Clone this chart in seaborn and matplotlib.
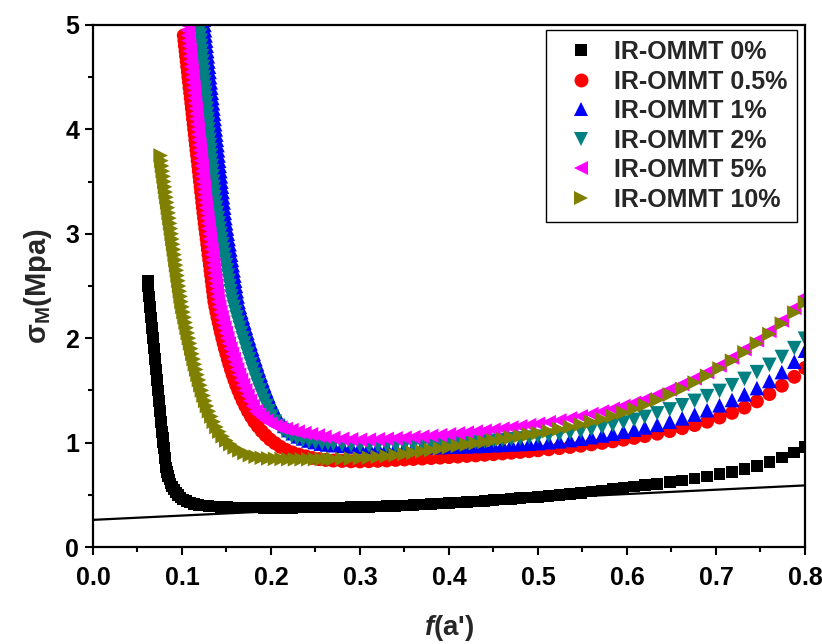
import matplotlib
matplotlib.use("Agg")
import matplotlib.pyplot as plt
from matplotlib.ticker import MultipleLocator
from matplotlib.lines import Line2D
import pandas as pd
import seaborn as sns

# ---------------------------------------------------------------- data
SAMPLES = ["IR-OMMT 0%", "IR-OMMT 0.5%", "IR-OMMT 1%",
           "IR-OMMT 2%", "IR-OMMT 5%", "IR-OMMT 10%"]
COLORS = ["#000000", "#ff0000", "#0000ff", "#008080", "#ff00ff", "#808000"]
MARKERS = ["s", "o", "^", "v", "<", ">"]
SIZES = [70, 100, 110, 110, 110, 110]

X_TICKS = [0.0, 0.1, 0.2, 0.3, 0.4, 0.5, 0.6, 0.7, 0.8]
Y_TICKS = [0, 1, 2, 3, 4, 5]

# straight reference line
LINE_F = [0.0, 0.8]
LINE_S = [0.26, 0.59]

# stress levels of the steep (low f) branch
S_GRID = [5.10, 5.05, 5.00, 4.95, 4.90, 4.85, 4.80, 4.75, 4.70, 4.65, 4.60, 4.55,
          4.50, 4.45, 4.40, 4.35, 4.30, 4.25, 4.20, 4.15, 4.10, 4.05, 4.00, 3.95,
          3.90, 3.85, 3.80, 3.75, 3.70, 3.65, 3.60, 3.55, 3.50, 3.45, 3.40, 3.35,
          3.30, 3.25, 3.20, 3.15, 3.10, 3.05, 3.00, 2.95, 2.90, 2.85, 2.80, 2.75,
          2.70, 2.65, 2.60, 2.55, 2.50, 2.45, 2.40, 2.35, 2.30, 2.25, 2.20, 2.15,
          2.10, 2.05, 2.00, 1.95, 1.90, 1.85, 1.80, 1.75, 1.70, 1.65, 1.60, 1.55,
          1.50, 1.45, 1.40, 1.35, 1.30, 1.25, 1.20, 1.15, 1.10, 1.05, 1.00, 0.95,
          0.90, 0.85, 0.80]

# f values of the slowly rising branch (shared by all samples)
F_TAIL = [0.27, 0.28, 0.29, 0.30, 0.31, 0.32, 0.33, 0.34, 0.35, 0.36, 0.37, 0.38,
          0.39, 0.40, 0.41, 0.42, 0.43, 0.44, 0.45, 0.46, 0.47, 0.48, 0.49, 0.50,
          0.512, 0.524, 0.536, 0.548, 0.560, 0.572, 0.584, 0.596, 0.608, 0.620,
          0.634, 0.648, 0.662, 0.676, 0.690, 0.704, 0.718, 0.732, 0.746, 0.760,
          0.774, 0.788, 0.800]

# ---- IR-OMMT 0%
S0_TOP = 2.55
F0_STEEP = [0.0615, 0.0620, 0.0626, 0.0631, 0.0637, 0.0642, 0.0648, 0.0653, 0.0659,
            0.0664, 0.0670, 0.0675, 0.0681, 0.0686, 0.0692, 0.0697, 0.0703, 0.0708,
            0.0714, 0.0719, 0.0725, 0.0730, 0.0736, 0.0741, 0.0747, 0.0753, 0.0759,
            0.0765, 0.0771, 0.0778, 0.0784, 0.0790, 0.0796, 0.0802, 0.0809, 0.0816]
F0_BEND = [0.0824, 0.0834, 0.0845, 0.0858, 0.0873, 0.0890, 0.0910, 0.0932, 0.0957,
           0.0985, 0.1015, 0.1050, 0.1090, 0.1135, 0.1185, 0.1240, 0.1300, 0.1365,
           0.1435, 0.1505, 0.1575, 0.1645, 0.1715, 0.1785, 0.1855, 0.1925, 0.2000,
           0.2080, 0.2160, 0.2240, 0.2320, 0.2400, 0.2480, 0.2560, 0.2640]
S0_BEND = [0.76, 0.72, 0.68, 0.645, 0.61, 0.58, 0.55, 0.522, 0.497, 0.475, 0.456,
           0.44, 0.425, 0.413, 0.403, 0.396, 0.391, 0.387, 0.384, 0.382, 0.380,
           0.379, 0.378, 0.377, 0.377, 0.376, 0.376, 0.376, 0.376, 0.376, 0.377,
           0.377, 0.378, 0.378, 0.378]
S0_TAIL = [0.379, 0.380, 0.382, 0.384, 0.386, 0.389, 0.392, 0.395, 0.398, 0.402,
           0.406, 0.410, 0.415, 0.420, 0.425, 0.430, 0.436, 0.442, 0.448, 0.454,
           0.460, 0.467, 0.474, 0.480, 0.489, 0.498, 0.508, 0.518, 0.530, 0.542,
           0.555, 0.568, 0.580, 0.592, 0.606, 0.620, 0.636, 0.655, 0.675, 0.697,
           0.720, 0.746, 0.778, 0.815, 0.858, 0.905, 0.955]

# ---- IR-OMMT 0.5%
S05_TOP = 4.90
F05_STEEP = [0.1020, 0.1027, 0.1033, 0.1040, 0.1046, 0.1053, 0.1059, 0.1066, 0.1072,
             0.1079, 0.1085, 0.1092, 0.1098, 0.1105, 0.1111, 0.1118, 0.1124, 0.1131,
             0.1137, 0.1144, 0.1150, 0.1157, 0.1163, 0.1170, 0.1176, 0.1183, 0.1189,
             0.1196, 0.1202, 0.1209, 0.1215, 0.1222, 0.1228, 0.1235, 0.1241, 0.1248,
             0.1255, 0.1262, 0.1270, 0.1277, 0.1284, 0.1291, 0.1298, 0.1306, 0.1313,
             0.1320, 0.1327, 0.1334, 0.1342, 0.1349, 0.1356, 0.1364, 0.1375, 0.1387,
             0.1399, 0.1412, 0.1425, 0.1439, 0.1453, 0.1468, 0.1483, 0.1499, 0.1515,
             0.1532, 0.1550, 0.1569, 0.1589, 0.1610, 0.1633, 0.1657, 0.1683, 0.1711,
             0.1741]
F05_BEND = [0.1775, 0.1812, 0.1852, 0.1895, 0.1940, 0.1990, 0.2045, 0.2105, 0.2170,
            0.2240, 0.2315, 0.2390, 0.2465, 0.2540, 0.2615]
S05_BEND = [1.25, 1.20, 1.155, 1.11, 1.07, 1.03, 0.995, 0.96, 0.93, 0.905, 0.885,
            0.868, 0.853, 0.842, 0.834]
S05_TAIL = [0.828, 0.824, 0.821, 0.820, 0.822, 0.825, 0.829, 0.834, 0.838, 0.843,
            0.847, 0.852, 0.856, 0.861, 0.866, 0.872, 0.877, 0.883, 0.889, 0.896,
            0.903, 0.910, 0.918, 0.926, 0.936, 0.947, 0.958, 0.970, 0.983, 0.997,
            1.012, 1.028, 1.045, 1.062, 1.085, 1.110, 1.138, 1.168, 1.200, 1.240,
            1.285, 1.335, 1.395, 1.465, 1.545, 1.630, 1.715]

# ---- IR-OMMT 1%
S1_TOP = 5.10
F1_STEEP = [0.1240, 0.1246, 0.1253, 0.1259, 0.1265, 0.1272, 0.1278, 0.1284, 0.1291,
            0.1297, 0.1304, 0.1310, 0.1316, 0.1323, 0.1329, 0.1335, 0.1342, 0.1348,
            0.1354, 0.1361, 0.1367, 0.1373, 0.1380, 0.1386, 0.1392, 0.1399, 0.1405,
            0.1411, 0.1418, 0.1424, 0.1431, 0.1437, 0.1443, 0.1450, 0.1456, 0.1462,
            0.1469, 0.1475, 0.1481, 0.1488, 0.1497, 0.1506, 0.1515, 0.1524, 0.1534,
            0.1543, 0.1552, 0.1561, 0.1570, 0.1580, 0.1589, 0.1598, 0.1607, 0.1616,
            0.1626, 0.1635, 0.1651, 0.1667, 0.1684, 0.1701, 0.1718, 0.1735, 0.1752,
            0.1770, 0.1788, 0.1806, 0.1825, 0.1844, 0.1863, 0.1883, 0.1903, 0.1924,
            0.1946, 0.1969, 0.1993, 0.2018, 0.2045]
F1_BEND = [0.2075, 0.2110, 0.2150, 0.2195, 0.2245, 0.2300, 0.2360, 0.2420, 0.2490,
           0.2560, 0.2630]
S1_BEND = [1.25, 1.20, 1.16, 1.12, 1.09, 1.06, 1.04, 1.02, 1.005, 0.99, 0.982]
S1_TAIL = [0.975, 0.968, 0.962, 0.958, 0.955, 0.953, 0.952, 0.951, 0.951, 0.952,
           0.953, 0.955, 0.957, 0.960, 0.962, 0.964, 0.967, 0.970, 0.974, 0.978,
           0.982, 0.986, 0.990, 0.995, 1.003, 1.012, 1.024, 1.037, 1.052, 1.068,
           1.085, 1.104, 1.124, 1.145, 1.170, 1.200, 1.232, 1.268, 1.310, 1.357,
           1.408, 1.462, 1.522, 1.590, 1.675, 1.775, 1.880]

# ---- IR-OMMT 2%
S2_TOP = 5.05
F2_STEEP = [0.1190, 0.1195, 0.1200, 0.1206, 0.1211, 0.1216, 0.1221, 0.1226, 0.1232,
            0.1237, 0.1242, 0.1247, 0.1252, 0.1258, 0.1263, 0.1268, 0.1273, 0.1278,
            0.1284, 0.1289, 0.1294, 0.1299, 0.1304, 0.1310, 0.1315, 0.1320, 0.1325,
            0.1330, 0.1336, 0.1341, 0.1346, 0.1351, 0.1356, 0.1362, 0.1367, 0.1375,
            0.1385, 0.1395, 0.1405, 0.1415, 0.1425, 0.1435, 0.1445, 0.1455, 0.1465,
            0.1475, 0.1485, 0.1495, 0.1505, 0.1515, 0.1525, 0.1535, 0.1545, 0.1555,
            0.1566, 0.1582, 0.1598, 0.1614, 0.1631, 0.1648, 0.1665, 0.1682, 0.1700,
            0.1718, 0.1736, 0.1755, 0.1774, 0.1793, 0.1813, 0.1833, 0.1854, 0.1876,
            0.1899, 0.1923, 0.1949, 0.1977]
F2_BEND = [0.2008, 0.2043, 0.2083, 0.2128, 0.2178, 0.2233, 0.2293, 0.2358, 0.2428,
           0.2500, 0.2575, 0.2640]
S2_BEND = [1.25, 1.20, 1.16, 1.12, 1.09, 1.06, 1.04, 1.025, 1.01, 1.00, 0.993, 0.989]
S2_TAIL = [0.986, 0.980, 0.975, 0.972, 0.970, 0.970, 0.970, 0.971, 0.973, 0.975,
           0.978, 0.982, 0.986, 0.990, 0.995, 1.000, 1.006, 1.012, 1.018, 1.025,
           1.032, 1.040, 1.048, 1.056, 1.066, 1.078, 1.092, 1.108, 1.126, 1.146,
           1.168, 1.192, 1.218, 1.246, 1.280, 1.318, 1.358, 1.400, 1.445, 1.495,
           1.550, 1.610, 1.675, 1.745, 1.820, 1.905, 1.995]

# ---- IR-OMMT 5%
S5_TOP = 5.00
F5_STEEP = [0.1056, 0.1062, 0.1068, 0.1074, 0.1080, 0.1086, 0.1092, 0.1098, 0.1104,
            0.1110, 0.1117, 0.1123, 0.1129, 0.1135, 0.1141, 0.1147, 0.1153, 0.1159,
            0.1165, 0.1171, 0.1177, 0.1183, 0.1189, 0.1195, 0.1201, 0.1207, 0.1214,
            0.1220, 0.1226, 0.1232, 0.1238, 0.1244, 0.1250, 0.1256, 0.1263, 0.1270,
            0.1278, 0.1285, 0.1293, 0.1300, 0.1308, 0.1315, 0.1323, 0.1330, 0.1338,
            0.1345, 0.1353, 0.1360, 0.1368, 0.1375, 0.1383, 0.1390, 0.1398, 0.1406,
            0.1418, 0.1431, 0.1445, 0.1460, 0.1476, 0.1492, 0.1509, 0.1526, 0.1544,
            0.1562, 0.1581, 0.1600, 0.1620, 0.1641, 0.1663, 0.1686, 0.1710, 0.1736,
            0.1764, 0.1794, 0.1828]
F5_BEND = [0.1866, 0.1906, 0.1950, 0.1998, 0.2050, 0.2105, 0.2165, 0.2230, 0.2300,
           0.2375, 0.2450, 0.2525, 0.2600]
S5_BEND = [1.27, 1.24, 1.21, 1.185, 1.16, 1.145, 1.13, 1.12, 1.105, 1.092, 1.08,
           1.068, 1.056]
S5_TAIL = [1.045, 1.037, 1.031, 1.027, 1.028, 1.032, 1.036, 1.041, 1.046, 1.052,
           1.058, 1.065, 1.072, 1.080, 1.088, 1.096, 1.105, 1.114, 1.124, 1.134,
           1.145, 1.156, 1.168, 1.180, 1.196, 1.213, 1.232, 1.252, 1.274, 1.298,
           1.324, 1.352, 1.382, 1.414, 1.460, 1.510, 1.560, 1.615, 1.675, 1.740,
           1.815, 1.895, 1.980, 2.070, 2.170, 2.290, 2.400]

# ---- IR-OMMT 10%
S10_TOP = 3.75
F10_STEEP = [0.0760, 0.0768, 0.0776, 0.0784, 0.0793, 0.0801, 0.0809, 0.0817, 0.0825,
             0.0834, 0.0842, 0.0850, 0.0859, 0.0867, 0.0876, 0.0884, 0.0892, 0.0901,
             0.0909, 0.0918, 0.0926, 0.0934, 0.0943, 0.0951, 0.0960, 0.0968, 0.0976,
             0.0985, 0.0994, 0.1005, 0.1017, 0.1029, 0.1041, 0.1053, 0.1065, 0.1078,
             0.1091, 0.1104, 0.1117, 0.1131, 0.1145, 0.1160, 0.1175, 0.1191, 0.1207,
             0.1224, 0.1242, 0.1261, 0.1281, 0.1303]
F10_BEND = [0.1330, 0.1357, 0.1387, 0.1420, 0.1457, 0.1498, 0.1543, 0.1592, 0.1645,
            0.1702, 0.1763, 0.1828, 0.1897, 0.1970, 0.2045, 0.2120, 0.2195, 0.2270,
            0.2345, 0.2420, 0.2495, 0.2570, 0.2640]
S10_BEND = [1.25, 1.20, 1.15, 1.105, 1.06, 1.02, 0.985, 0.953, 0.925, 0.90, 0.88,
            0.865, 0.855, 0.849, 0.845, 0.843, 0.841, 0.840, 0.840, 0.840, 0.841,
            0.842, 0.842]
S10_TAIL = [0.843, 0.845, 0.847, 0.850, 0.856, 0.863, 0.871, 0.880, 0.890, 0.902,
            0.915, 0.928, 0.941, 0.955, 0.968, 0.981, 0.994, 1.007, 1.020, 1.034,
            1.048, 1.062, 1.076, 1.090, 1.109, 1.129, 1.150, 1.173, 1.198, 1.225,
            1.254, 1.287, 1.322, 1.360, 1.408, 1.460, 1.515, 1.575, 1.640, 1.710,
            1.785, 1.865, 1.950, 2.040, 2.140, 2.245, 2.340]

TOPS = [S0_TOP, S05_TOP, S1_TOP, S2_TOP, S5_TOP, S10_TOP]
STEEPS = [F0_STEEP, F05_STEEP, F1_STEEP, F2_STEEP, F5_STEEP, F10_STEEP]
BENDS_F = [F0_BEND, F05_BEND, F1_BEND, F2_BEND, F5_BEND, F10_BEND]
BENDS_S = [S0_BEND, S05_BEND, S1_BEND, S2_BEND, S5_BEND, S10_BEND]
TAILS = [S0_TAIL, S05_TAIL, S1_TAIL, S2_TAIL, S5_TAIL, S10_TAIL]

frames = []
for name, top, fs, bf, bs, ts in zip(SAMPLES, TOPS, STEEPS, BENDS_F, BENDS_S, TAILS):
    i0 = S_GRID.index(top)
    steep_s = S_GRID[i0:i0 + len(fs)]
    frames.append(pd.DataFrame({"f": fs + bf + F_TAIL,
                                "sigma": steep_s + bs + ts,
                                "sample": name}))
df = pd.concat(frames, ignore_index=True)
line_df = pd.DataFrame({"f": LINE_F, "sigma": LINE_S})

# ---------------------------------------------------------------- style
sns.set_theme(style="ticks")
plt.rcParams["font.family"] = ["Liberation Sans", "DejaVu Sans"]
plt.rcParams["mathtext.fontset"] = "custom"
plt.rcParams["mathtext.rm"] = "Liberation Sans:bold"
plt.rcParams["mathtext.bf"] = "Liberation Sans:bold"
plt.rcParams["mathtext.it"] = "Liberation Sans:bold:italic"

fig = plt.figure(figsize=(8.22, 6.44), dpi=100)
ax = fig.add_axes([0.1131, 0.1506, 0.8662, 0.8106])

sns.lineplot(data=line_df, x="f", y="sigma", ax=ax, color="black", lw=1.6,
             zorder=1, legend=False)

handles = []
for name, col, mk, sz in zip(SAMPLES, COLORS, MARKERS, SIZES):
    sub = df[df["sample"] == name]
    sns.scatterplot(data=sub, x="f", y="sigma", ax=ax, color=col, marker=mk,
                    s=sz, linewidth=0, edgecolor="none", legend=False, zorder=2)
    handles.append(Line2D([], [], ls="none", marker=mk, color=col,
                          markersize=sz ** 0.5, markeredgewidth=0, label=name))

ax.set_xlim(0.0, 0.8)
ax.set_ylim(0, 5)
ax.set_xticks(X_TICKS)
ax.set_yticks(Y_TICKS)
ax.set_xticklabels([f"{v:.1f}" for v in X_TICKS])
ax.set_yticklabels([str(v) for v in Y_TICKS])
ax.xaxis.set_minor_locator(MultipleLocator(0.05))
ax.yaxis.set_minor_locator(MultipleLocator(0.5))

for sp in ax.spines.values():
    sp.set_visible(True)
    sp.set_linewidth(1.6)
    sp.set_color("black")
ax.tick_params(axis="both", which="major", direction="out", length=6, width=1.5,
               color="black", top=False, right=False, labelsize=18,
               labelcolor="black")
ax.tick_params(axis="x", which="major", pad=8)
ax.tick_params(axis="y", which="major", pad=4)
ax.tick_params(axis="both", which="minor", direction="out", length=3.5, width=1.5,
               color="black", top=False, right=False)
for lab in ax.get_xticklabels() + ax.get_yticklabels():
    lab.set_fontweight("bold")

ax.set_xlabel(r"$\mathit{f}$(a')", fontsize=20, fontweight="bold", labelpad=16)
ax.set_ylabel(r"σ$_{\mathrm{M}}$(Mpa)", fontsize=21, fontweight="bold", labelpad=8)

leg = ax.legend(handles=handles, loc="upper right", bbox_to_anchor=(0.989, 0.990),
                frameon=True, fancybox=False, edgecolor="black", framealpha=1,
                prop={"weight": "bold", "size": 18}, labelspacing=0.22,
                handlelength=2.0, handletextpad=0.3, borderpad=0.4,
                borderaxespad=0.0)
leg.get_frame().set_linewidth(1.0)

fig.savefig("out.png", dpi=100)
